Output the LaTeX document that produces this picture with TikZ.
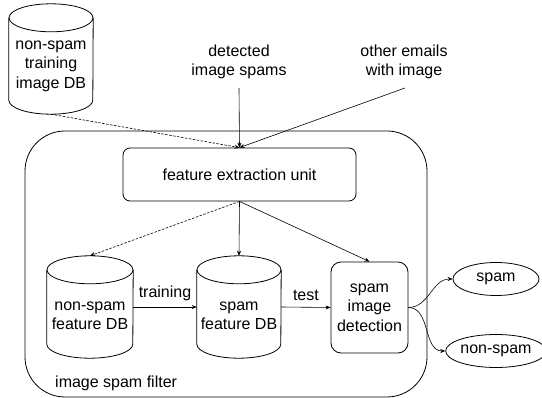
\documentclass[tikz,border=0pt]{standalone}
\usepackage{fontspec}
\setmainfont{Liberation Sans}
\usetikzlibrary{arrows.meta,calc,shapes.geometric}
\tikzset{
  txt/.style={font=\fontsize{16}{19.5}\selectfont, align=center, inner sep=0pt},
  shapeline/.style={draw=black, line width=0.8pt},
  box/.style={shapeline, rectangle, txt},
  cylbox/.style={rectangle, inner sep=0pt, draw=none},
  oval/.style={shapeline, ellipse, txt, minimum width=86pt, minimum height=33pt},
  arr/.style={draw=black, line width=0.6pt, -{Stealth[length=5pt,width=4pt]}},
  dasharr/.style={arr, dash pattern=on 2.5pt off 1.5pt},
}
\newcommand\dbcylinder[3]{%
  \draw[shapeline] ($(#1.north west)+(0,#3)$) -- ($(#1.south west)+(0,-#3)$)
     arc[start angle=180, end angle=0, x radius=#2, y radius=#3]
     -- ($(#1.north east)+(0,#3)$);
  \draw[shapeline] ($(#1.north)+(0,#3)$) ellipse[x radius=#2, y radius=#3];
}
\begin{document}
\begin{tikzpicture}[x=1pt,y=-1pt]
\useasboundingbox (0,0) rectangle (542,398);
% filter container
\node[box, minimum width=402pt, minimum height=266pt, rounded corners=40pt] (filter) at (226,264) {};
\node[txt, anchor=west] (filterlabel) at (55,383) {image spam filter};
% boxes
\node[box, minimum width=233pt, minimum height=53pt, rounded corners=7pt] (fe) at (239.5,174.5) {feature extraction unit};
\node[box, minimum width=77pt, minimum height=91pt, rounded corners=10pt] (sid) at (369.5,307.5) {spam\\image\\detection};
\node[oval] (spam) at (496,279) {spam};
\node[oval] (nonspam) at (496,351) {non-spam};
% cylinders
\node[cylbox, minimum width=84pt, minimum height=110pt] (tdb) at (51,59) {};
\dbcylinder{tdb}{42}{14}
\node[txt] (tdbtext) at (51,66) {non-spam\\training\\image DB};
\node[cylbox, minimum width=86pt, minimum height=102pt] (nsdb) at (90,307) {};
\dbcylinder{nsdb}{43}{14}
\node[txt] (nsdbtext) at (90,316) {non-spam\\feature DB};
\node[cylbox, minimum width=84pt, minimum height=102pt] (sdb) at (239,307) {};
\dbcylinder{sdb}{42}{14}
\node[txt] (sdbtext) at (239,316) {spam\\feature DB};
% inputs
\node[txt] (det) at (239,62) {detected\\image spams};
\node[txt] (other) at (404,62) {other emails\\with image};
\coordinate (detout) at (239,88);
\coordinate (otherout) at (405,88);
% connectors
\draw[arr] (detout) -- (fe.north);
\draw[arr] (otherout) -- (fe.north);
\draw[dasharr] (tdb.south) -- (fe.north);
\draw[arr] (fe.south) -- (sdb.north);
\draw[dasharr] (fe.south) -- (nsdb.north);
\draw[arr] (fe.south) -- (sid.north);
\draw[arr] (nsdb.east) -- node[txt, above=6pt] (trainlbl) {training} (sdb.west);
\draw[arr] (sdb.east) -- node[txt, above=6pt] (testlbl) {test} (sid.west);
\draw[arr] (sid.east) to[out=0,in=180] (spam.west);
\draw[arr] (sid.east) to[out=0,in=180] (nonspam.west);
\end{tikzpicture}
\end{document}
